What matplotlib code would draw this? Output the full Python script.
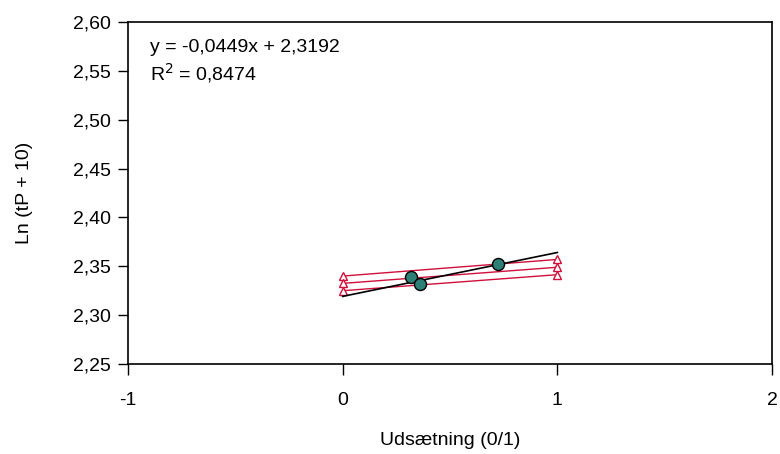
import matplotlib
matplotlib.use("Agg")
import matplotlib.pyplot as plt
from matplotlib.ticker import FuncFormatter

plt.rcParams['font.family'] = ['Liberation Sans', 'DejaVu Sans']

# Observed points
obs_x = [0.32, 0.36, 0.725]
obs_y = [2.339, 2.3315, 2.352]

# Fitted line endpoints (x) and fit
fit_x = [0.0, 1.0]
slope = 0.0449
intercept = 2.3192
fit_y = [intercept + slope * v for v in fit_x]

# Red triangle lines (start at x=0, end at x=1)
tri_x = [0.0, 1.0]
tri_lines = [
    [2.340, 2.357],
    [2.3325, 2.349],
    [2.325, 2.3414],
]

xticks = [-1, 0, 1, 2]
yticks = [2.25, 2.30, 2.35, 2.40, 2.45, 2.50, 2.55, 2.60]

fig = plt.figure(figsize=(7.8, 4.54), dpi=100)
ax = fig.add_axes([128/780, 1 - 364/454, (772-128)/780, (364-22)/454])

red = '#d0103a'
for ys in tri_lines:
    ax.plot(tri_x, ys, color=red, lw=1.0, marker='^', markersize=6,
            markerfacecolor='white', markeredgecolor=red, markeredgewidth=1.0, zorder=2)

ax.plot(fit_x, fit_y, color='black', lw=1.2, zorder=3)
ax.scatter(obs_x, obs_y, s=75, color='#2e8077', edgecolor='black', linewidth=1.0, zorder=4)

ax.set_xlim(-1, 2)
ax.set_ylim(2.25, 2.60)
ax.set_xticks(xticks)
ax.set_yticks(yticks)
ax.xaxis.set_major_formatter(FuncFormatter(lambda v, p: f"{int(v)}"))
ax.yaxis.set_major_formatter(FuncFormatter(lambda v, p: f"{v:.2f}".replace('.', ',')))
ax.tick_params(axis='x', direction='out', length=8, width=1, labelsize=14, pad=12)
ax.tick_params(axis='y', direction='out', length=7, width=1, labelsize=14, pad=5)
for s in ax.spines.values():
    s.set_linewidth(1.2)

ax.set_xlabel("Udsætning (0/1)", fontsize=14, labelpad=17)
ax.set_ylabel("Ln (tP + 10)", fontsize=14, labelpad=29)

ax.text(0.034, 0.925, "y = -0,0449x + 2,3192", transform=ax.transAxes, fontsize=14, va='center')
ax.text(0.034, 0.852, "R$^2$ = 0,8474", transform=ax.transAxes, fontsize=14, va='center')

fig.savefig("out.png", dpi=100)
